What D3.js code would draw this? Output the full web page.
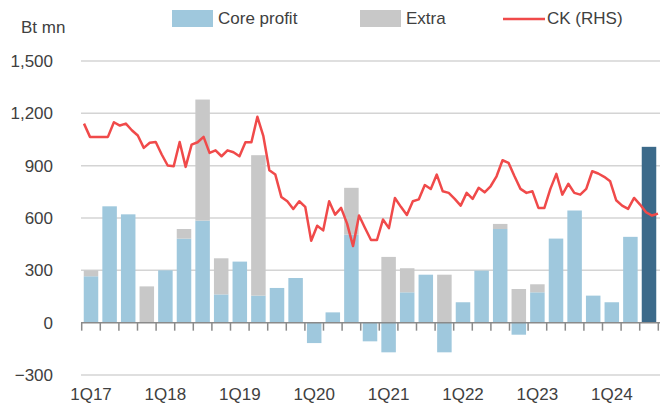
<!DOCTYPE html>
<html>
<head>
<meta charset="utf-8">
<script src="https://cdn.jsdelivr.net/npm/d3@7"></script>
<style>
  body { margin: 0; background: #fff; }
  text { font-family: "Liberation Sans", Arial, sans-serif; fill: #404040; }
</style>
</head>
<body>
<svg id="chart" width="660" height="416"></svg>
<script>
// quarters shown as bars
const quarters = ["1Q17","2Q17","3Q17","4Q17","1Q18","2Q18","3Q18","4Q18",
  "1Q19","2Q19","3Q19","4Q19","1Q20","2Q20","3Q20","4Q20",
  "1Q21","2Q21","3Q21","4Q21","1Q22","2Q22","3Q22","4Q22",
  "1Q23","2Q23","3Q23","4Q23","1Q24","2Q24","3Q24"];

const coreProfit = [266, 667, 621, 0, 300, 482, 585, 162,
  350, 155, 199, 256, -117, 59, 505, -107,
  -170, 174, 275, -170, 117, 298, 537, -69,
  174, 482, 643, 155, 117, 492, 1008];

const extraItems = [34, 0, 0, 208, 0, 55, 694, 207,
  0, 805, 0, 0, 0, 0, 268, 0,
  377, 138, 0, 275, 0, 0, 29, 193,
  46, 0, 0, 0, 0, 0, 0];

// CK share price, drawn against the left scale
const ckLine = [1141, 1065, 1065, 1065, 1065, 1149, 1130, 1141, 1103, 1073,
  1002, 1031, 1036, 964, 901, 897, 1036, 893, 1021, 1034,
  1065, 973, 988, 954, 988, 977, 954, 1034, 1034, 1180,
  1069, 874, 849, 721, 696, 652, 696, 664, 470, 556,
  529, 696, 619, 658, 568, 439, 614, 543, 474, 474,
  591, 542, 715, 664, 617, 696, 707, 789, 766, 849,
  753, 744, 710, 671, 744, 710, 773, 747, 782, 839,
  931, 916, 839, 767, 744, 753, 658, 658, 767, 853,
  734, 796, 744, 734, 767, 868, 855, 836, 810, 702,
  671, 652, 715, 677, 633, 614, 625];

const yTicks = [-300, 0, 300, 600, 900, 1200, 1500];
const highlightQuarter = "3Q24";

const colors = { core: "#9fc8dd", extra: "#c8c8c8", highlight: "#3c6a8a", line: "#f04a4a" };

const svg = d3.select("#chart");

const x = d3.scaleBand()
  .domain(quarters)
  .range([81.7, 658.3])
  .paddingInner(0.22)
  .paddingOuter(0.11);

const y = d3.scaleLinear()
  .domain([-300, 1500])
  .range([375, 61]);

const xLine = d3.scalePoint()
  .domain(d3.range(ckLine.length))
  .range([84, 658]);

// gridlines
svg.append("g")
  .selectAll("line")
  .data(yTicks.filter(d => d !== 0))
  .join("line")
  .attr("x1", 81).attr("x2", 660)
  .attr("y1", d => y(d)).attr("y2", d => y(d))
  .attr("stroke", "#d4d4d4")
  .attr("stroke-width", 1.5);

// y labels
svg.append("g")
  .selectAll("text")
  .data(yTicks)
  .join("text")
  .attr("x", 53)
  .attr("y", d => y(d))
  .attr("dy", "0.36em")
  .attr("text-anchor", "end")
  .style("font-size", "17px")
  .text(d3.format(","));

svg.append("text")
  .attr("x", 21).attr("y", 33)
  .style("font-size", "17px")
  .text("Bt mn");

// stacked bars
const rows = quarters.map((q, i) => ({ q, core: coreProfit[i], extra: extraItems[i] }));
const series = d3.stack()
  .keys(["core", "extra"])
  .offset(d3.stackOffsetDiverging)(rows);

svg.append("g")
  .selectAll("g")
  .data(series)
  .join("g")
  .selectAll("rect")
  .data(s => s.map(d => ({ key: s.key, d })))
  .join("rect")
  .attr("x", e => x(e.d.data.q))
  .attr("width", x.bandwidth())
  .attr("y", e => y(Math.max(e.d[0], e.d[1])))
  .attr("height", e => Math.abs(y(e.d[0]) - y(e.d[1])))
  .attr("fill", e => e.key === "core" && e.d.data.q === highlightQuarter ? colors.highlight : colors[e.key]);

// zero axis with ticks between categories
const axisG = svg.append("g");
axisG.append("line")
  .attr("x1", 81).attr("x2", 660)
  .attr("y1", y(0)).attr("y2", y(0))
  .attr("stroke", "#8a8a8a")
  .attr("stroke-width", 1.5);

const gap = (x.step() - x.bandwidth()) / 2;
const bounds = quarters.map(q => x(q) - gap).concat([x(quarters[quarters.length - 1]) + x.bandwidth() + gap]);
axisG.selectAll("line.tick")
  .data(bounds)
  .join("line")
  .attr("class", "tick")
  .attr("x1", d => d).attr("x2", d => d)
  .attr("y1", y(0)).attr("y2", y(0) + 8)
  .attr("stroke", "#8a8a8a")
  .attr("stroke-width", 1.5);

// x labels (first quarter of each year)
svg.append("g")
  .selectAll("text")
  .data(quarters.filter(q => q.startsWith("1Q")))
  .join("text")
  .attr("x", d => x(d) + x.bandwidth() / 2)
  .attr("y", 400)
  .attr("text-anchor", "middle")
  .style("font-size", "17px")
  .text(d => d);

// CK line
svg.append("path")
  .datum(ckLine)
  .attr("fill", "none")
  .attr("stroke", colors.line)
  .attr("stroke-width", 2.5)
  .attr("stroke-linejoin", "round")
  .attr("d", d3.line().x((d, i) => xLine(i)).y(d => y(d)));

// legend
const legend = [
  { label: "Core profit", type: "rect", color: colors.core, x: 172 },
  { label: "Extra", type: "rect", color: colors.extra, x: 360 },
  { label: "CK (RHS)", type: "line", color: colors.line, x: 503 }
];
const lg = svg.append("g")
  .selectAll("g")
  .data(legend)
  .join("g")
  .attr("transform", d => `translate(${d.x},10)`);

lg.filter(d => d.type === "rect")
  .append("rect")
  .attr("width", 41).attr("height", 17)
  .attr("fill", d => d.color);

lg.filter(d => d.type === "line")
  .append("line")
  .attr("x1", 0).attr("x2", 42)
  .attr("y1", 9).attr("y2", 9)
  .attr("stroke", d => d.color)
  .attr("stroke-width", 2.5);

lg.append("text")
  .attr("x", d => d.type === "line" ? 44 : 46)
  .attr("y", 13.5)
  .style("font-size", "17px")
  .text(d => d.label);
</script>
</body>
</html>
